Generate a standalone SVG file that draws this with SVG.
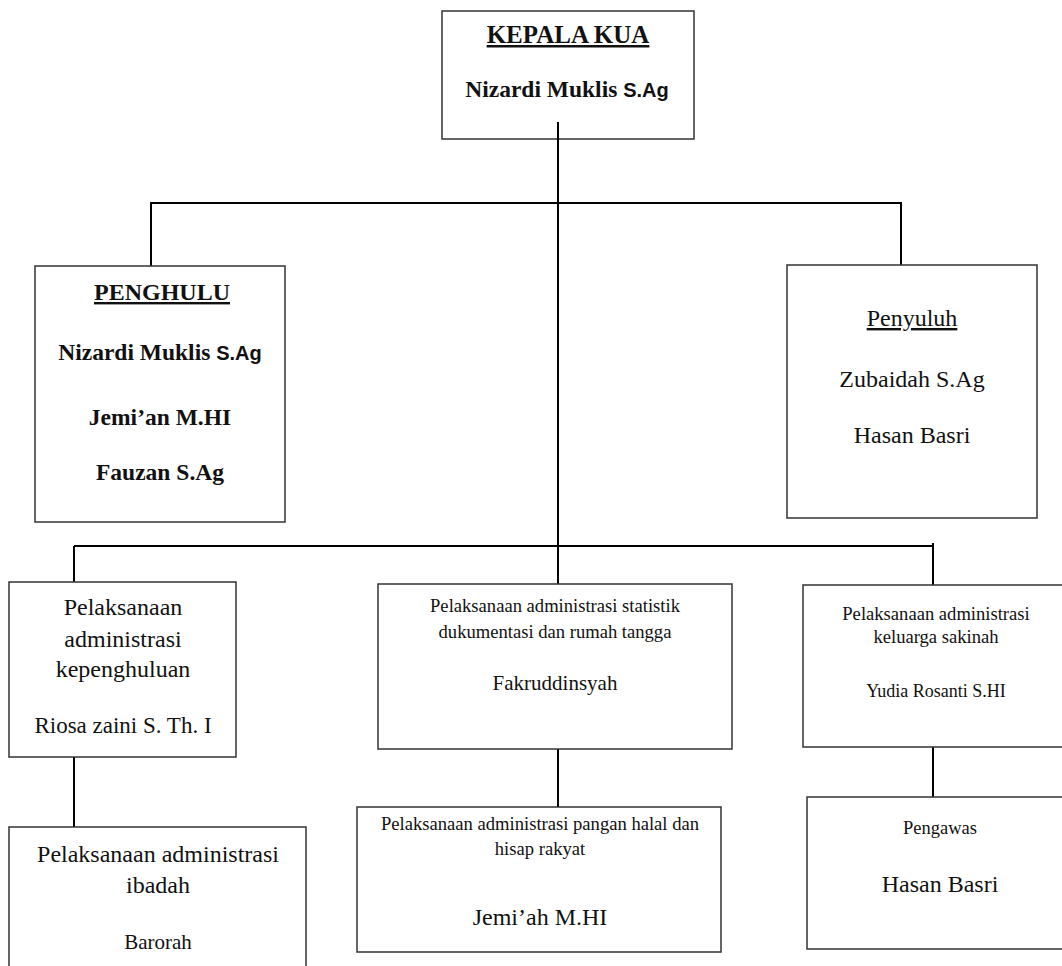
<svg xmlns="http://www.w3.org/2000/svg" width="1062" height="966" viewBox="0 0 1062 966">
<style>
.box{fill:#fff;stroke:#333;stroke-width:1.5}
.con{stroke:#000;stroke-width:2;fill:none}
text{font-family:"Liberation Serif","Times New Roman",serif;fill:#111;text-anchor:middle}
.b{font-weight:bold}
.u{text-decoration:underline}
.sans{font-family:"Liberation Sans",Arial,sans-serif}
</style>
<rect width="1062" height="966" fill="#fff"/>
<g id="kepala">
<rect class="box" x="442" y="11" width="252" height="128"/>
<text class="b u" x="568" y="43" font-size="25">KEPALA KUA</text>
<text class="b" x="567" y="97" font-size="23.5">Nizardi Muklis <tspan class="sans" font-size="20">S.Ag</tspan></text>
</g>
<g id="connectors">
<line class="con" x1="558" y1="122" x2="558" y2="584"/>
<polyline class="con" points="151,266 151,203 901,203 901,265"/>
<line class="con" x1="74" y1="546" x2="933" y2="546"/>
<line class="con" x1="74" y1="546" x2="74" y2="582"/>
<line class="con" x1="933" y1="543" x2="933" y2="585"/>
<line class="con" x1="74" y1="757" x2="74" y2="827"/>
<line class="con" x1="558" y1="749" x2="558" y2="807"/>
<line class="con" x1="933" y1="747" x2="933" y2="797"/>
</g>
<g id="penghulu">
<rect class="box" x="35" y="266" width="250" height="256"/>
<text class="b u" x="162" y="300" font-size="24">PENGHULU</text>
<text class="b" x="160" y="360" font-size="23.5">Nizardi Muklis <tspan class="sans" font-size="20">S.Ag</tspan></text>
<text class="b" x="160" y="425" font-size="23.5">Jemi’an M.HI</text>
<text class="b" x="160" y="480" font-size="23.5">Fauzan S.Ag</text>
</g>
<g id="penyuluh">
<rect class="box" x="787" y="265" width="250" height="253"/>
<text class="u" x="912" y="326" font-size="24">Penyuluh</text>
<text x="912" y="387" font-size="24">Zubaidah S.Ag</text>
<text x="912" y="443" font-size="24">Hasan Basri</text>
</g>
<g id="kepenghuluan">
<rect class="box" x="9" y="582" width="227" height="175"/>
<text x="123" y="615" font-size="24">Pelaksanaan</text>
<text x="123" y="647" font-size="24">administrasi</text>
<text x="123" y="677" font-size="24">kepenghuluan</text>
<text x="123" y="733" font-size="23">Riosa zaini S. Th. I</text>
</g>
<g id="statistik">
<rect class="box" x="378" y="584" width="354" height="165"/>
<text x="555" y="612" font-size="18.6">Pelaksanaan administrasi statistik</text>
<text x="555" y="638" font-size="18.6">dukumentasi dan rumah tangga</text>
<text x="555" y="690" font-size="21">Fakruddinsyah</text>
</g>
<g id="sakinah">
<rect class="box" x="803" y="585" width="266" height="162"/>
<text x="936" y="620" font-size="18.6">Pelaksanaan administrasi</text>
<text x="936" y="643" font-size="18.6">keluarga sakinah</text>
<text x="936" y="697" font-size="18">Yudia Rosanti S.HI</text>
</g>
<g id="ibadah">
<rect class="box" x="9" y="827" width="297" height="150"/>
<text x="158" y="862" font-size="24">Pelaksanaan administrasi</text>
<text x="158" y="893" font-size="24">ibadah</text>
<text x="158" y="949" font-size="21">Barorah</text>
</g>
<g id="halal">
<rect class="box" x="357" y="807" width="364" height="145"/>
<text x="540" y="830" font-size="18.6">Pelaksanaan administrasi pangan halal dan</text>
<text x="540" y="855" font-size="18.6">hisap rakyat</text>
<text x="540" y="925" font-size="24">Jemi’ah M.HI</text>
</g>
<g id="pengawas">
<rect class="box" x="807" y="797" width="266" height="152"/>
<text x="940" y="834" font-size="18.5">Pengawas</text>
<text x="940" y="892" font-size="24">Hasan Basri</text>
</g>
</svg>
